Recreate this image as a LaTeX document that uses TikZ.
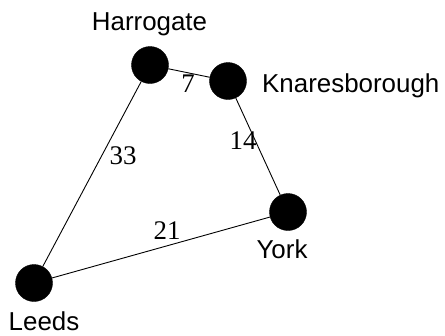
\documentclass[tikz,border=0pt]{standalone}
\usepackage{fontspec}
\setmainfont{Liberation Serif}
\newfontfamily\labfont{Liberation Sans}
\begin{document}
\begin{tikzpicture}[x=1bp,y=-1bp,
  town/.style={circle,fill=black,draw=black,minimum size=37bp,inner sep=0pt},
  tname/.style={font=\labfont\fontsize{26}{30}\selectfont,inner sep=0pt},
  dist/.style={font=\fontsize{27}{30}\selectfont,inner sep=0pt,anchor=base},
  road/.style={line width=0.9bp}]
\useasboundingbox (0,0) rectangle (445,335);
\node[town] (H) at (150,65) {};
\node[town] (K) at (228,81) {};
\node[town] (Y) at (288,212) {};
\node[town] (L) at (34,283) {};
\draw[road] (H) -- (K);
\draw[road] (K) -- (Y);
\draw[road] (Y) -- (L);
\draw[road] (L) -- (H);
\node[tname,anchor=base] (Ht) at (149.5,30) {Harrogate};
\node[tname,anchor=base west] (Kt) at (262,92) {Knaresborough};
\node[tname,anchor=base] (Yt) at (282,258) {York};
\node[tname,anchor=base] (Lt) at (44,330) {Leeds};
\node[dist] (d7) at (188,92) {7};
\node[dist] (d14) at (243,149) {14};
\node[dist] (d33) at (123,164) {33};
\node[dist] (d21) at (167,239) {21};
\end{tikzpicture}
\end{document}
